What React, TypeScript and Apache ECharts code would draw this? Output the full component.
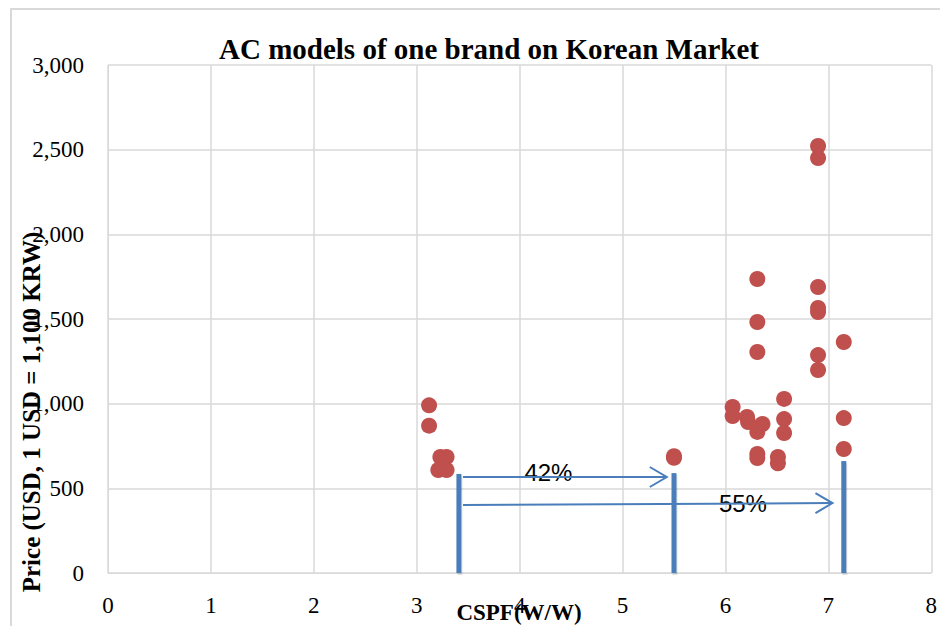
import React, { useEffect, useRef } from "react";
import * as echarts from "echarts";

const titleText = "AC models of one brand on Korean Market";
const xAxisTitle = "CSPF(W/W)";
const yAxisTitle = "Price (USD, 1 USD = 1,100 KRW)";

const cspf = [
  3.12, 3.12, 3.23, 3.29, 3.21, 3.29,
  5.5, 5.5,
  6.07, 6.07, 6.21, 6.22, 6.36, 6.31, 6.31, 6.31, 6.31, 6.31, 6.31,
  6.51, 6.51, 6.57, 6.57, 6.57,
  6.9, 6.9, 6.9, 6.9, 6.9, 6.9, 6.9,
  7.15, 7.15, 7.15,
];
const price = [
  990, 870, 685, 685, 608, 608,
  690, 680,
  980, 927, 921, 892, 880, 833, 1736, 1482, 1305, 703, 679,
  685, 648, 1028, 909, 827,
  2522, 2451, 1689, 1565, 1541, 1287, 1199,
  1364, 915, 732,
];

// annotation bars (CSPF position, top value)
const barX = [3.41, 5.5, 7.15];
const barTop = [585, 590, 661];
// arrows: start x, end x, start y, end y, label, label x, label y
const arrowStartX = [3.45, 3.45];
const arrowEndX = [5.43, 7.04];
const arrowStartY = [567, 402];
const arrowEndY = [567, 413];
const arrowLabels = ["42%", "55%"];
const arrowLabelX = [4.28, 6.17];
const arrowLabelY = [596, 413];

const BLUE = "#4a7ebb";
const SERIF = "'Liberation Serif', 'DejaVu Serif', serif";

export default function App() {
  const ref = useRef<HTMLDivElement>(null);
  useEffect(() => {
    if (!ref.current) return;
    const chart = echarts.init(ref.current, undefined, { renderer: "svg" });
    const points = cspf.map((x, i) => [x, price[i]]);
    chart.setOption({
      animation: false,
      backgroundColor: "#ffffff",
      title: {
        text: titleText,
        left: 484,
        top: 29,
        textAlign: "center",
        textStyle: {
          fontFamily: SERIF,
          fontWeight: "bold",
          fontSize: 29,
          color: "#000",
        },
      },
      grid: { left: 108, right: 8, top: 65, bottom: 53, containLabel: false },
      xAxis: {
        type: "value",
        min: 0,
        max: 8,
        interval: 1,
        axisLine: { show: true, lineStyle: { color: "#d9d9d9", width: 1 } },
        axisTick: { show: false },
        splitLine: { show: true, lineStyle: { color: "#d9d9d9", width: 1.5 } },
        axisLabel: {
          fontFamily: SERIF,
          fontSize: 23,
          color: "#000",
          margin: 21,
        },
      },
      yAxis: {
        type: "value",
        min: 0,
        max: 3000,
        interval: 500,
        axisLine: { show: true, lineStyle: { color: "#d9d9d9", width: 1 } },
        axisTick: { show: false },
        splitLine: { show: true, lineStyle: { color: "#d9d9d9", width: 1.5 } },
        axisLabel: {
          fontFamily: SERIF,
          fontSize: 23,
          color: "#000",
          margin: 24,
          formatter: (v: number) => v.toLocaleString("en-US"),
        },
      },
      series: [
        {
          type: "scatter",
          data: points,
          symbol: "circle",
          symbolSize: 16,
          itemStyle: { color: "#c0504d", opacity: 1 },
        },
      ],
    });

    const px = (x: number, y: number) =>
      chart.convertToPixel({ gridIndex: 0 }, [x, y]) as number[];

    const graphics: any[] = [
      {
        type: "rect",
        shape: { x: 11, y: 9, width: 1000, height: 700 },
        style: { fill: "none", stroke: "#d9d9d9", lineWidth: 2 },
        z: 0,
        silent: true,
      },
    ];

    barX.forEach((x, i) => {
      const a = px(x, 0);
      const b = px(x, barTop[i]);
      graphics.push({
        type: "rect",
        shape: { x: a[0] - 2.5 + 1, y: b[1] + 2, width: 5, height: a[1] - b[1] },
        style: { fill: "rgba(0,0,0,0.12)" },
        z: 99,
      });
      graphics.push({
        type: "line",
        shape: { x1: a[0], y1: a[1], x2: b[0], y2: b[1] },
        style: { stroke: BLUE, lineWidth: 5 },
        z: 100,
      });
    });

    arrowStartX.forEach((sx, i) => {
      const a = px(sx, arrowStartY[i]);
      const b = px(arrowEndX[i], arrowEndY[i]);
      graphics.push({
        type: "line",
        shape: { x1: a[0], y1: a[1], x2: b[0], y2: b[1] },
        style: { stroke: BLUE, lineWidth: 2 },
        z: 100,
      });
      graphics.push({
        type: "polyline",
        shape: {
          points: [
            [b[0] - 17, b[1] - 10],
            [b[0], b[1]],
            [b[0] - 17, b[1] + 10],
          ],
        },
        style: { stroke: BLUE, lineWidth: 2, fill: "none" },
        z: 100,
      });
      const l = px(arrowLabelX[i], arrowLabelY[i]);
      graphics.push({
        type: "text",
        x: l[0],
        y: l[1],
        style: {
          text: arrowLabels[i],
          font: "24px 'Liberation Sans', 'Open Sans', sans-serif",
          fill: "#000",
          align: "center",
          verticalAlign: "middle",
        },
        z: 99,
      });
    });

    graphics.push({
      type: "text",
      x: 519,
      y: 612,
      style: {
        text: xAxisTitle,
        font: `bold 23px ${SERIF}`,
        fill: "#000",
        align: "center",
        verticalAlign: "middle",
      },
      z: 110,
    });
    graphics.push({
      type: "text",
      x: 31,
      y: 412,
      rotation: Math.PI / 2,
      style: {
        text: yAxisTitle,
        font: `bold 25px ${SERIF}`,
        fill: "#000",
        align: "center",
        verticalAlign: "middle",
      },
      z: 110,
    });

    chart.setOption({ graphic: graphics });

    return () => chart.dispose();
  }, []);

  return (
    <div
      ref={ref}
      style={{ position: "absolute", left: 0, top: 0, width: 940, height: 626 }}
    />
  );
}
